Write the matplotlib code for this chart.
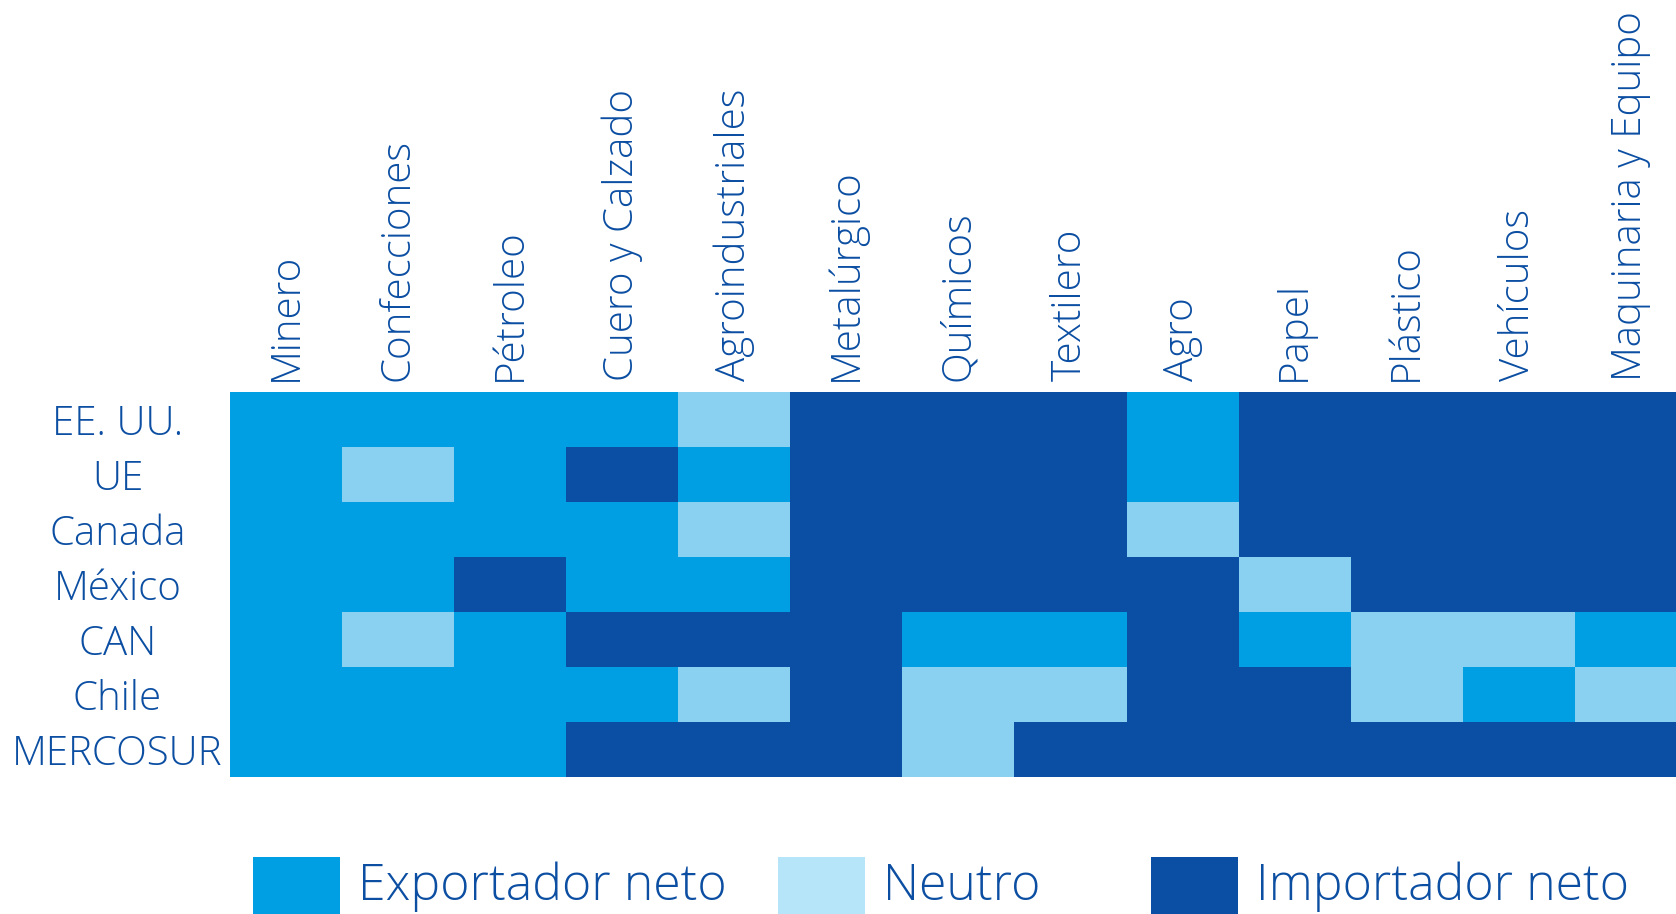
import numpy as np
import matplotlib.pyplot as plt
from matplotlib.colors import ListedColormap
from matplotlib.patches import Rectangle

sectores = ['Minero', 'Confecciones', 'Pétroleo', 'Cuero y Calzado', 'Agroindustriales',
            'Metalúrgico', 'Químicos', 'Textilero', 'Agro', 'Papel', 'Plástico',
            'Vehículos', 'Maquinaria y Equipo']
socios = ['EE. UU.', 'UE', 'Canada', 'México', 'CAN', 'Chile', 'MERCOSUR']

# 0 = Exportador neto, 1 = Neutro, 2 = Importador neto
estado = [
    [0, 0, 0, 0, 1, 2, 2, 2, 0, 2, 2, 2, 2],
    [0, 1, 0, 2, 0, 2, 2, 2, 0, 2, 2, 2, 2],
    [0, 0, 0, 0, 1, 2, 2, 2, 1, 2, 2, 2, 2],
    [0, 0, 2, 0, 0, 2, 2, 2, 2, 1, 2, 2, 2],
    [0, 1, 0, 2, 2, 2, 0, 0, 2, 0, 1, 1, 0],
    [0, 0, 0, 0, 1, 2, 1, 1, 2, 2, 1, 0, 1],
    [0, 0, 0, 2, 2, 2, 1, 2, 2, 2, 2, 2, 2],
]
leyenda = ['Exportador neto', 'Neutro', 'Importador neto']

azul = '#009FE3'
claro = '#8AD0F1'
oscuro = '#0A4FA3'
texto = '#0B4EA2'

plt.rcParams['font.family'] = ['Open Sans', 'DejaVu Sans']

fig = plt.figure(figsize=(16.76, 9.14), dpi=100)
# the grid runs a little past the right edge of the picture
ax = fig.add_axes([230 / 1676, 1 - 777 / 914, 1456 / 1676, (777 - 392) / 914])

cmap = ListedColormap([azul, claro, oscuro])
ax.imshow(np.array(estado), cmap=cmap, vmin=-0.5, vmax=2.5, aspect='auto',
          interpolation='nearest')

ax.set_xticks(range(len(sectores)))
ax.set_xticklabels(sectores, rotation=90, fontsize=29, color=texto, fontweight='light')
ax.xaxis.tick_top()
ax.tick_params(axis='x', length=0, pad=8)

ax.set_yticks(range(len(socios)))
ax.set_yticklabels(socios, fontsize=29, color=texto, fontweight='light', ha='center')
ax.tick_params(axis='y', length=0, pad=81)

for s in ax.spines.values():
    s.set_visible(False)

# leyenda
colores_ley = [azul, '#B6E4F8', oscuro]
x_patch = [253, 778, 1151]
for nombre, c, xp in zip(leyenda, colores_ley, x_patch):
    fig.add_artist(Rectangle((xp / 1676, 0), 87 / 1676, 57 / 914,
                             transform=fig.transFigure, color=c, lw=0))
    fig.text((xp + 105) / 1676, 1 - 887 / 914, nombre, fontsize=36, color=texto,
             fontweight='light', va='center', ha='left')

fig.savefig('out.png', dpi=100)
